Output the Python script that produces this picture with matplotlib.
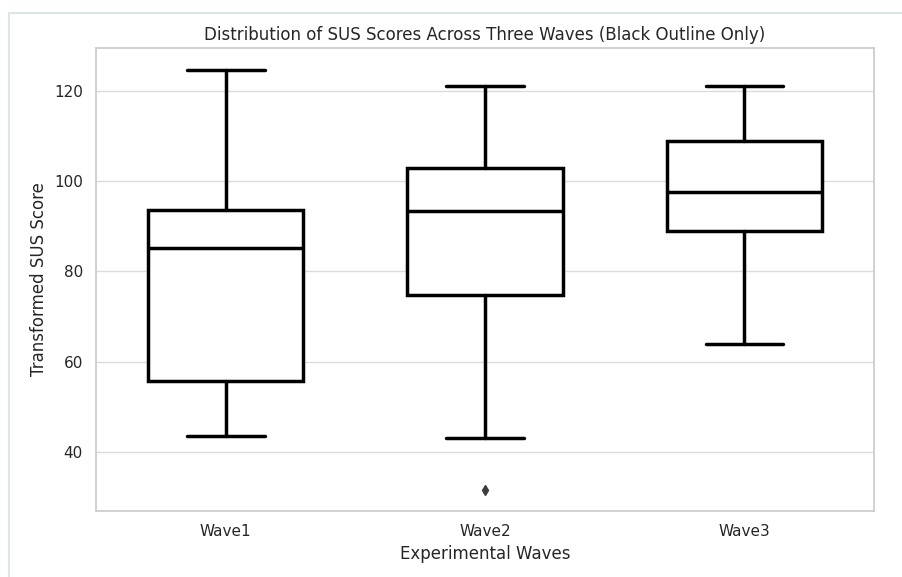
import matplotlib
matplotlib.use("Agg")
import matplotlib.pyplot as plt
import seaborn as sns
from matplotlib.patches import Rectangle

sns.set_theme(style="whitegrid")
plt.rcParams['font.family'] = ['DejaVu Sans']

waves = ["Wave1", "Wave2", "Wave3"]
whisker_low = [43.5, 43.1, 63.9]
q1 = [55.7, 74.8, 89.0]
median = [85.2, 93.4, 97.6]
q3 = [93.6, 102.9, 108.9]
whisker_high = [124.7, 121.1, 121.1]
outliers = [[], [31.6], []]

stats = []
for i, w in enumerate(waves):
    stats.append(dict(label=w, whislo=whisker_low[i], q1=q1[i], med=median[i],
                      q3=q3[i], whishi=whisker_high[i], fliers=outliers[i]))

fig = plt.figure(figsize=(9.03, 5.77), dpi=100)
ax = fig.add_axes([0.1063, 0.1144, 0.8617, 0.8024])

lw = 2.5
ax.bxp(stats, positions=range(len(waves)), widths=0.6, patch_artist=True,
       boxprops=dict(facecolor="white", edgecolor="black", linewidth=lw),
       medianprops=dict(color="black", linewidth=lw),
       whiskerprops=dict(color="black", linewidth=lw),
       capprops=dict(color="black", linewidth=lw),
       flierprops=dict(marker="d", markerfacecolor="#3d3d3d", markeredgecolor="#3d3d3d",
                       markersize=5),
       capwidths=0.3)

ax.set_xlim(-0.5, 2.5)
ax.set_ylim(26.9, 129.5)
ax.set_yticks([40, 60, 80, 100, 120])
ax.set_xticks(range(len(waves)))
ax.set_xticklabels(waves)
ax.tick_params(labelsize=11)
ax.xaxis.grid(False)
ax.yaxis.grid(True, color="#cccccc", alpha=0.7)
ax.set_axisbelow(True)
ax.set_title("Distribution of SUS Scores Across Three Waves (Black Outline Only)",
             fontsize=12, pad=6)
ax.set_xlabel("Experimental Waves", fontsize=12)
ax.set_ylabel("Transformed SUS Score", fontsize=12)

fig.patches.append(Rectangle((9/903, -0.05), 2, 1 - 13/577 + 0.05,
                             transform=fig.transFigure, fill=False,
                             edgecolor="#d3e3e3", linewidth=1.2, zorder=-1))

fig.savefig("out.png", dpi=100)
